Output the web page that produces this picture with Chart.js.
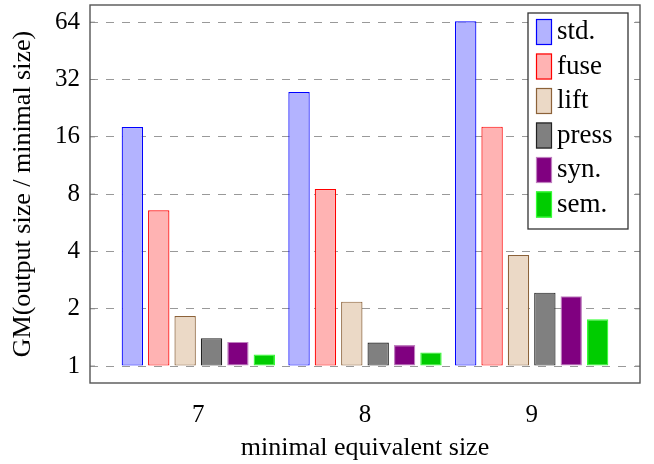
<!DOCTYPE html>
<html>
<head>
<meta charset="utf-8">
<script src="https://cdn.jsdelivr.net/npm/chart.js@4"></script>
<style>
    html, body { margin: 0; padding: 0; background: #fff; }
    #wrap { width: 654px; height: 464px; }
</style>
</head>
<body>
<div id="wrap"><canvas id="gmChart" width="654" height="464"></canvas></div>
<script>
    // Data
    const categories = [7, 8, 9];
    const seriesNames = ['std.', 'fuse', 'lift', 'press', 'syn.', 'sem.'];
    const stdValues = [18.0, 27.5, 64.7];
    const fuseValues = [6.58, 8.51, 18.1];
    const liftValues = [1.83, 2.18, 3.83];
    const pressValues = [1.40, 1.33, 2.43];
    const synValues = [1.34, 1.29, 2.33];
    const semValues = [1.15, 1.18, 1.76];
    const yTickValues = [1, 2, 4, 8, 16, 32, 64];

    const seriesValues = [stdValues, fuseValues, liftValues, pressValues, synValues, semValues];
    const fills = ['#b3b3ff', '#ffb3b3', '#ebd9c6', '#808080', '#800080', '#00cc00'];
    const borders = ['#0000ff', '#ff0000', '#8c6239', '#222222', '#c080c0', '#33ff33'];

    const serif = "'Liberation Serif', 'Times New Roman', serif";
    const fontSize = 25;

    // Frame round the plot area plus small inside tick marks
    const framePlugin = {
        id: 'frame',
        afterDraw(chart) {
            const { ctx, chartArea: a, scales } = chart;
            ctx.save();
            ctx.strokeStyle = '#888';
            ctx.lineWidth = 1;
            yTickValues.forEach(v => {
                const y = scales.y.getPixelForValue(v);
                ctx.beginPath();
                ctx.moveTo(a.left, y); ctx.lineTo(a.left + 5, y);
                ctx.moveTo(a.right, y); ctx.lineTo(a.right - 5, y);
                ctx.stroke();
            });
            ctx.strokeStyle = '#555';
            ctx.lineWidth = 1.4;
            ctx.strokeRect(a.left, a.top, a.right - a.left, a.bottom - a.top);
            ctx.restore();
        }
    };

    // Legend box inside the top right corner
    const legendPlugin = {
        id: 'insideLegend',
        afterDraw(chart) {
            const ctx = chart.ctx;
            const bx = 528, by = 13, bw = 100, bh = 216;
            ctx.save();
            ctx.fillStyle = '#fff';
            ctx.fillRect(bx, by, bw, bh);
            ctx.strokeStyle = '#333';
            ctx.lineWidth = 1.3;
            ctx.strokeRect(bx, by, bw, bh);
            ctx.font = '27px ' + serif;
            ctx.textBaseline = 'middle';
            seriesNames.forEach((name, i) => {
                const top = by + 6 + i * 34.5;
                ctx.fillStyle = fills[i];
                ctx.fillRect(536, top, 16, 26);
                ctx.strokeStyle = borders[i];
                ctx.lineWidth = 1.2;
                ctx.strokeRect(536.5, top + 0.5, 15, 25);
                ctx.fillStyle = '#000';
                ctx.fillText(name, 557, top + 13);
            });
            ctx.restore();
        }
    };

    const datasets = seriesNames.map((name, i) => ({
        label: name,
        data: categories.map((c, j) => ({ x: c, y: seriesValues[i][j] })),
        backgroundColor: fills[i],
        borderColor: borders[i],
        borderWidth: 1.2,
        borderSkipped: false,
        base: 1,
        barPercentage: 0.81,
        categoryPercentage: 0.95
    }));

    new Chart(document.getElementById('gmChart').getContext('2d'), {
        type: 'bar',
        data: { datasets: datasets },
        options: {
            responsive: false,
            animation: false,
            layout: { padding: { top: 5, right: 14, left: 0, bottom: 0 } },
            scales: {
                x: {
                    type: 'linear',
                    offset: false,
                    min: 6.35,
                    max: 9.65,
                    afterBuildTicks: (scale) => { scale.ticks = categories.map(v => ({ value: v })); },
                    afterFit: (scale) => {
                        scale.height = 81;
                        scale.paddingLeft = 0;
                        scale.paddingRight = 0;
                    },
                    grid: { display: false, drawTicks: false, offset: false },
                    border: { display: false },
                    ticks: {
                        color: '#000',
                        font: { family: serif, size: fontSize },
                        padding: 17,
                        callback: (v) => String(v)
                    },
                    title: {
                        display: true,
                        text: 'minimal equivalent size',
                        color: '#000',
                        font: { family: serif, size: 26 },
                        padding: { top: 0, bottom: 0 }
                    }
                },
                y: {
                    type: 'logarithmic',
                    min: 0.815,
                    max: 78.8,
                    afterBuildTicks: (scale) => { scale.ticks = yTickValues.map(v => ({ value: v })); },
                    afterFit: (scale) => {
                        scale.width = 90;
                        scale.paddingTop = 0;
                        scale.paddingBottom = 0;
                    },
                    grid: { color: '#999', lineWidth: 1, drawTicks: false },
                    border: { display: false, dash: [8, 8] },
                    ticks: {
                        color: '#000',
                        font: { family: serif, size: fontSize },
                        padding: 10,
                        callback: (v) => String(v)
                    },
                    title: {
                        display: true,
                        text: 'GM(output size / minimal size)',
                        color: '#000',
                        font: { family: serif, size: 26 },
                        padding: { top: 8, bottom: 0 }
                    }
                }
            },
            plugins: {
                legend: { display: false },
                tooltip: { enabled: false }
            }
        },
        plugins: [framePlugin, legendPlugin]
    });
</script>
</body>
</html>
